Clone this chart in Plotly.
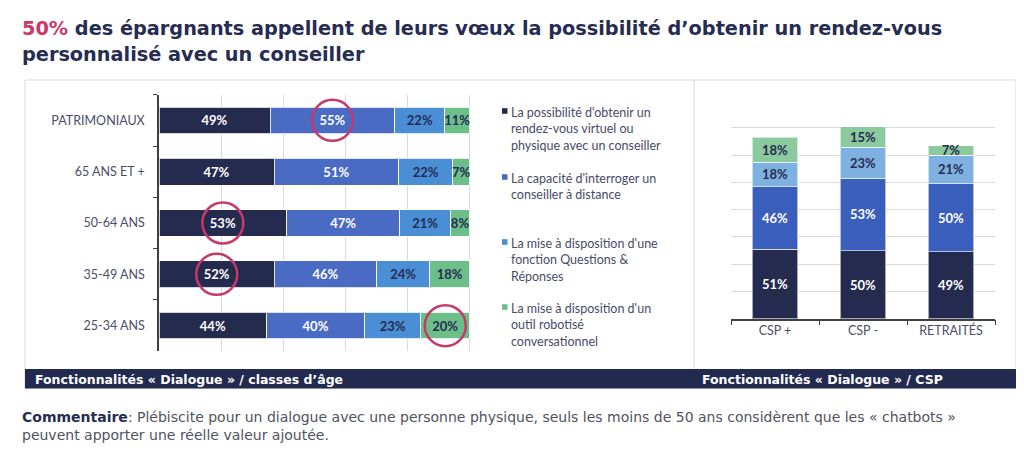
import plotly.graph_objects as go

# ---------------- data ----------------
age_categories = ["PATRIMONIAUX", "65 ANS ET +", "50-64 ANS", "35-49 ANS", "25-34 ANS"]
age_rdv = [49, 47, 53, 52, 44]
age_distance = [55, 51, 47, 46, 40]
age_qr = [22, 22, 21, 24, 23]
age_robot = [11, 7, 8, 18, 20]

csp_categories = ["CSP +", "CSP -", "RETRAITÉS"]
csp_rdv = [51, 50, 49]
csp_distance = [46, 53, 50]
csp_qr = [18, 23, 21]
csp_robot = [18, 15, 7]

series_names = [
    "La possibilité d'obtenir un<br>rendez-vous virtuel ou<br>physique avec un conseiller",
    "La capacité d'interroger un<br>conseiller à distance",
    "La mise à disposition d'une<br>fonction Questions &<br>Réponses",
    "La mise à disposition d'un<br>outil robotisé<br>conversationnel",
]
# highlighted cells (category, series index)
highlights = [("PATRIMONIAUX", 1), ("50-64 ANS", 0), ("35-49 ANS", 0), ("25-34 ANS", 3)]

title_highlight = "50%"
title_rest_1 = " des épargnants appellent de leurs vœux la possibilité d’obtenir un rendez-vous"
title_line_2 = "personnalisé avec un conseiller"
band_left = "Fonctionnalités « Dialogue » / classes d’âge"
band_right = "Fonctionnalités « Dialogue » / CSP"
comment_bold = "Commentaire"
comment_1 = ": Plébiscite pour un dialogue avec une personne physique, seuls les moins de 50 ans considèrent que les « chatbots »"
comment_2 = "peuvent apporter une réelle valeur ajoutée."

# ---------------- styles ----------------
W, H = 1024, 462
NAVY = "#262C52"
PINK = "#C8396B"
left_colors = ["#252B4F", "#4A6BC4", "#4A8FD6", "#6DBF8A"]
right_colors = ["#252B4F", "#3A5EBB", "#7FB1E0", "#8BCA9D"]
text_colors = ["white", "white", NAVY, NAVY]
FONT = "Lato"
WIDE = "DejaVu Sans"


def px(x):
    return x / W


def py(y):
    return 1 - y / H


age_series = [age_rdv, age_distance, age_qr, age_robot]
csp_series = [csp_rdv, csp_distance, csp_qr, csp_robot]
age_totals = [sum(v) for v in zip(*age_series)]

fig = go.Figure()

# left chart: 100% stacked horizontal bars
for i, vals in enumerate(age_series):
    shares = [v / t * 100 for v, t in zip(vals, age_totals)]
    fig.add_trace(go.Bar(
        orientation="h", y=age_categories, x=shares, name=series_names[i],
        marker=dict(color=left_colors[i], line=dict(color="rgba(255,255,255,0.8)", width=1)),
        width=0.52, text=[f"{v}%" for v in vals], textposition="inside",
        insidetextanchor="middle", textangle=0,
        textfont=dict(family=FONT, size=13, color=text_colors[i], weight="bold"),
        customdata=vals, hovertemplate="%{y}: %{customdata}%<extra></extra>",
        showlegend=False, xaxis="x", yaxis="y",
    ))

# right chart: stacked vertical bars
for i, vals in enumerate(csp_series):
    fig.add_trace(go.Bar(
        x=csp_categories, y=vals, name=series_names[i],
        marker=dict(color=right_colors[i], line=dict(color="rgba(255,255,255,0.6)", width=1)),
        width=0.52, text=[f"{v}%" for v in vals], textposition="inside",
        insidetextanchor="middle", textangle=0,
        textfont=dict(family=FONT, size=13, color=text_colors[i], weight="bold"),
        hovertemplate="%{x}: %{y}%<extra></extra>",
        showlegend=False, xaxis="x2", yaxis="y2",
    ))

shapes = []
annotations = []

# panel frames and band
shapes.append(dict(type="rect", xref="paper", yref="paper", x0=px(17), x1=px(1008), y0=py(380), y1=py(72),
                   line=dict(color="#D9D9D9", width=1), layer="below"))
shapes.append(dict(type="line", xref="paper", yref="paper", x0=px(686), x1=px(686), y0=py(361), y1=py(72),
                   line=dict(color="#D9D9D9", width=1), layer="below"))
shapes.append(dict(type="rect", xref="paper", yref="paper", x0=px(17), x1=px(1008), y0=py(380.5), y1=py(361),
                   fillcolor="#232A50", line=dict(width=0)))

# highlight circles, centred on the segment
for cat, si in highlights:
    ci = age_categories.index(cat)
    vals = [s[ci] for s in age_series]
    tot = sum(vals)
    start = sum(vals[:si]) / tot * 100
    end = sum(vals[:si + 1]) / tot * 100
    shapes.append(dict(type="circle", xref="x", yref="y", xsizemode="pixel", ysizemode="pixel",
                       xanchor=(start + end) / 2, yanchor=ci, x0=-20.5, x1=20.5, y0=-20.5, y1=20.5,
                       line=dict(color=PINK, width=2.5)))

# manual legend
legend_y = [103, 169, 234, 299]
for i, yy in enumerate(legend_y):
    shapes.append(dict(type="rect", xref="paper", yref="paper", x0=px(494), x1=px(499.5),
                       y0=py(yy + 2.8), y1=py(yy - 2.8), fillcolor=left_colors[i], line=dict(width=0)))
    annotations.append(dict(xref="paper", yref="paper", x=px(501), y=py(yy - 8), xanchor="left", yanchor="top",
                            text=series_names[i], showarrow=False, align="left",
                            font=dict(family=FONT, size=12.5, color="#484B68")))

# title
annotations.append(dict(xref="paper", yref="paper", x=px(12), y=py(21), xanchor="left", yanchor="middle",
                        text=f"<span style='color:{PINK}'>{title_highlight}</span>{title_rest_1}",
                        showarrow=False, font=dict(family=WIDE, size=19.3, color=NAVY, weight="bold")))
annotations.append(dict(xref="paper", yref="paper", x=px(12), y=py(47), xanchor="left", yanchor="middle",
                        text=title_line_2, showarrow=False,
                        font=dict(family=WIDE, size=19.3, color=NAVY, weight="bold")))
# band texts
annotations.append(dict(xref="paper", yref="paper", x=px(25), y=py(371), xanchor="left", yanchor="middle",
                        text=band_left, showarrow=False,
                        font=dict(family=WIDE, size=12.5, color="white", weight="bold")))
annotations.append(dict(xref="paper", yref="paper", x=px(692), y=py(371), xanchor="left", yanchor="middle",
                        text=band_right, showarrow=False,
                        font=dict(family=WIDE, size=12.5, color="white", weight="bold")))
# comment (two lines in one block)
annotations.append(dict(xref="paper", yref="paper", x=px(12), y=py(399), xanchor="left", yanchor="top",
                        text=f"<b style='color:{NAVY}'>{comment_bold}</b>{comment_1}<br>{comment_2}",
                        showarrow=False, align="left",
                        font=dict(family=WIDE, size=14, color="#505262")))

fig.update_layout(
    width=W, height=H, margin=dict(l=0, r=0, t=0, b=0),
    paper_bgcolor="white", plot_bgcolor="white",
    barmode="stack", bargap=0.48,
    uniformtext=dict(minsize=12, mode="show"),
    font=dict(family=FONT, color="#555"),
    xaxis=dict(domain=[px(151), px(463)], range=[0, 100.4], dtick=20, showgrid=True,
               gridcolor="#D9D9D9", gridwidth=1, showticklabels=False, zeroline=False, fixedrange=True),
    yaxis=dict(domain=[py(343.3), py(86.7)], categoryorder="array", categoryarray=age_categories,
               autorange="reversed", showline=True, linecolor="#404040", linewidth=1.5,
               ticks="outside", tickson="boundaries", ticklen=4, tickcolor="#404040",
               tickfont=dict(family=FONT, size=12.5, color="#4A4E6A"), ticklabelstandoff=10, showgrid=False),
    xaxis2=dict(domain=[px(723), px(987)], anchor="y2", showline=True, linecolor="#404040", linewidth=1.5,
                ticks="outside", tickson="boundaries", ticklen=5, tickcolor="#404040",
                tickfont=dict(family=FONT, size=12.5, color="#4A4E6A"), showgrid=False),
    yaxis2=dict(domain=[py(310.7), py(92)], anchor="x2", range=[0, 160.5], dtick=20, showgrid=True,
                gridcolor="#D9D9D9", showticklabels=False, zeroline=False, showline=False),
    shapes=shapes, annotations=annotations,
)

fig.write_html("out.html")
